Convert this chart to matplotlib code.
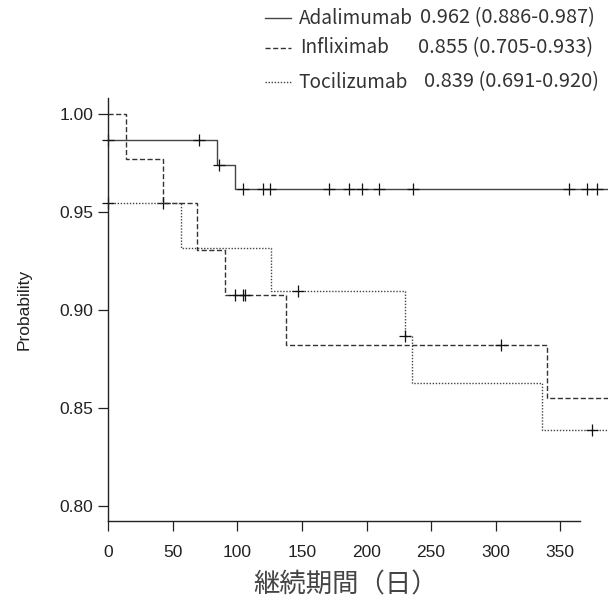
import numpy as np
import matplotlib
matplotlib.use('Agg')
import matplotlib.pyplot as plt
from matplotlib.lines import Line2D

# Kaplan-Meier steps (days, survival)
ada_times = [0, 84, 98]
ada_surv = [0.987, 0.974, 0.962]
ada_cens = [0, 70, 86, 104, 119.5, 125.5, 171, 186.5, 196.5, 210, 236, 357, 371, 378.5]

inf_times = [0, 14, 42, 69, 90, 138, 340]
inf_surv = [1.0, 0.977, 0.955, 0.931, 0.908, 0.882, 0.855]
inf_cens = [42, 98, 104, 105.5, 304]

toc_times = [0, 56, 126, 229.5, 235.5, 336]
toc_surv = [0.955, 0.932, 0.910, 0.887, 0.863, 0.839]
toc_cens = [0, 147, 230, 374.5]

end_day = 387

names = ['Adalimumab', 'Infliximab', 'Tocilizumab']
stats = ['0.962 (0.886-0.987)', '0.855 (0.705-0.933)', '0.839 (0.691-0.920)']
dash_pat = [None, (3.7, 1.8), (1.0, 1.2)]
colors = ['#444444', '#333333', '#444444']

W, H = 608, 603
fig = plt.figure(figsize=(W / 100, H / 100), dpi=100)
ax = fig.add_axes([108.3 / W, 1 - 521 / H, 1 - 108.3 / W, (521 - 98) / H])

curves = [(ada_times, ada_surv, ada_cens),
          (inf_times, inf_surv, inf_cens),
          (toc_times, toc_surv, toc_cens)]

for (t, s, c), dp, col in zip(curves, dash_pat, colors):
    tx = list(t) + [end_day]
    sy = list(s) + [s[-1]]
    ln, = ax.step(tx, sy, where='post', color=col, lw=1.0, clip_on=False)
    if dp is not None:
        ln.set_dashes(dp)
    # censor marks sit on the step level at that time
    idx = np.searchsorted(np.array(t), np.array(c), side='right') - 1
    cy = np.array(s)[idx]
    ax.plot(c, cy, linestyle='none', marker='+', ms=9, mew=0.9, color='#111111', clip_on=False)

ax.set_xlim(0, end_day)
ax.set_ylim(0.7923, 1.0084)
ax.set_xticks([0, 50, 100, 150, 200, 250, 300, 350])
ax.set_yticks([0.80, 0.85, 0.90, 0.95, 1.00])
ax.set_yticklabels(['0.80', '0.85', '0.90', '0.95', '1.00'])
ax.spines['top'].set_visible(False)
ax.spines['right'].set_visible(False)
ax.spines['bottom'].set_bounds(0, 365)
for sp in ['left', 'bottom']:
    ax.spines[sp].set_linewidth(1.0)
    ax.spines[sp].set_color('#222222')
ax.tick_params(direction='out', length=7, width=0.9, colors='#222222',
               labelsize=12.5, pad=4)
ax.tick_params(axis='x', pad=10)
for lab in ax.get_xticklabels() + ax.get_yticklabels():
    lab.set_family('Liberation Sans')

ax.set_ylabel('Probability', family='Liberation Sans', fontsize=12.5, color='#222222')
ax.yaxis.label.set_va('center')
ax.yaxis.set_label_coords(-(108.3 - 24) / (W - 108.3), 0.5)
ax.set_xlabel('継続期間（日）', family=['Noto Sans CJK JP', 'DejaVu Sans'],
              fontsize=19, color='#444444')
ax.xaxis.label.set_va('center')
ax.xaxis.set_label_coords((346 - 108.3) / (W - 108.3), -(585 - 521) / (521 - 98))

# hand-made legend at the top right
row_y = [18, 47.5, 82]
name_x = [299, 300, 298]
stat_x = [420, 418, 424]
for y, dp, col, nm, st, nx, sx in zip(row_y, dash_pat, colors, names, stats, name_x, stat_x):
    lg = Line2D([265 / W, 291 / W], [1 - y / H, 1 - y / H], color=col, lw=1.0)
    if dp is not None:
        lg.set_dashes(dp)
    fig.add_artist(lg)
    fig.text(nx / W, 1 - y / H, nm, family=['Noto Sans CJK JP', 'DejaVu Sans'],
             fontsize=13.7, va='center', ha='left', color='#333333')
    fig.text(sx / W, 1 - y / H, st, family=['Noto Sans CJK JP', 'DejaVu Sans'],
             fontsize=14.4, va='center', ha='left', color='#333333')

fig.savefig('out.png', dpi=100)
